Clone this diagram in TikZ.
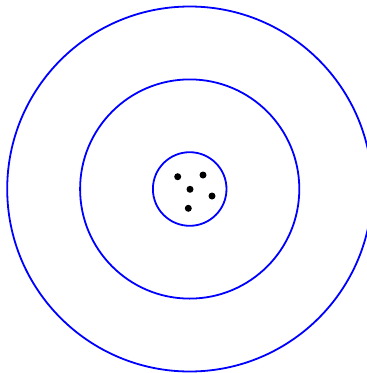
\documentclass[tikz,border=0pt]{standalone}
\begin{document}
\begin{tikzpicture}[x=1pt,y=-1pt,
  ring/.style={draw=blue,line width=1.8pt},
  dot/.style={circle,fill=black,inner sep=0pt,minimum size=7pt}]
\useasboundingbox (0,0) rectangle (367,373);
\fill[white] (0,0) rectangle (367,373);
\coordinate (c) at (189.7,189);
\draw[ring] (c) circle[radius=182.5];
\draw[ring] (c) circle[radius=109.6];
\draw[ring] (c) circle[radius=36.8];
\node[dot] (d1) at (177.7,176.7) {};
\node[dot] (d2) at (203,175) {};
\node[dot] (d3) at (190,189.3) {};
\node[dot] (d4) at (212,196) {};
\node[dot] (d5) at (188.3,208.3) {};
\end{tikzpicture}
\end{document}
